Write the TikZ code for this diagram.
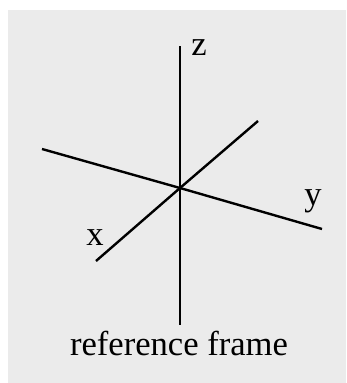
\documentclass[tikz,border=0pt]{standalone}
\usepackage{fontspec}
\setmainfont{Liberation Serif}
\usetikzlibrary{positioning}
\usepackage{xcolor}
\definecolor{panelgray}{HTML}{EBEBEB}

\begin{document}
\begin{tikzpicture}[x=1pt, y=-1pt,
    axis/.style={line width=2.4pt, black},
    lbl/.style={font=\fontsize{34.6}{40}\selectfont, inner sep=0pt, anchor=base},
  ]
  \useasboundingbox (0,0) rectangle (346,383);
  \fill[panelgray] (8,10) rectangle (346,383);

  \coordinate (origin) at (180,188);
  \coordinate (ztop) at (180,46);
  \coordinate (zbot) at (180,325);
  \coordinate (yfar) at (42,149);
  \coordinate (ynear) at (322,229);
  \coordinate (xfar) at (258,121);
  \coordinate (xnear) at (96,261);

  \draw[axis] (ztop) -- (origin) -- (zbot);
  \draw[axis] (yfar) -- (origin) -- (ynear);
  \draw[axis] (xfar) -- (origin) -- (xnear);

  \node[lbl] (zlabel) at (199,55) {z};
  \node[lbl] (ylabel) at (313,205.5) {y};
  \node[lbl] (xlabel) at (95,245) {x};
  \node[lbl] (caption) at (179,355) {reference frame};
\end{tikzpicture}
\end{document}
